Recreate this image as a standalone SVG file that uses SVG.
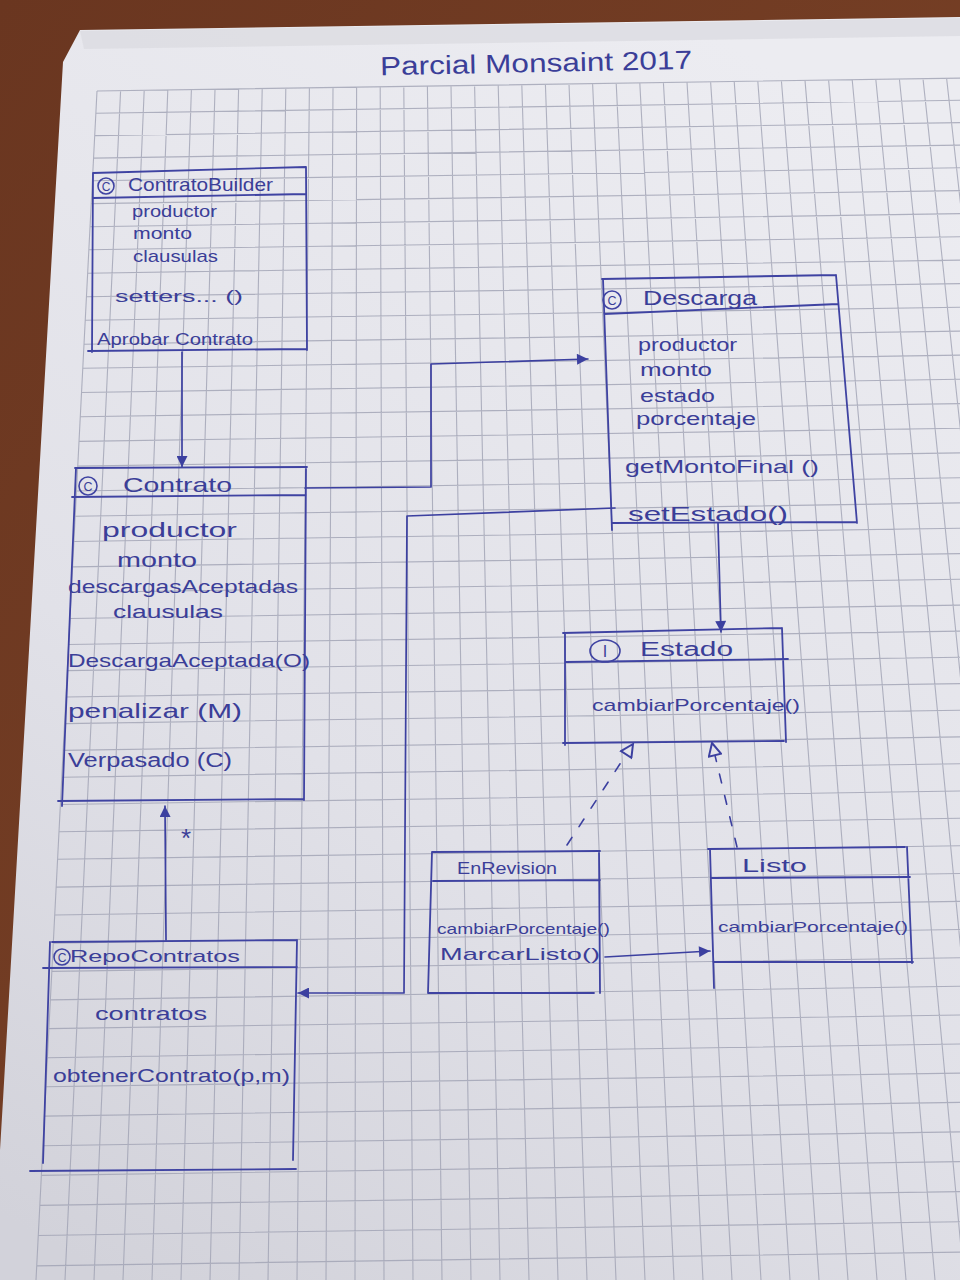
<svg xmlns="http://www.w3.org/2000/svg" width="960" height="1280" viewBox="0 0 960 1280">
<defs>
<linearGradient id="wood" x1="0" y1="0" x2="1" y2="1">
<stop offset="0" stop-color="#6a3620"/>
<stop offset="1" stop-color="#7e4528"/>
</linearGradient>
<linearGradient id="paper" gradientUnits="userSpaceOnUse" x1="760" y1="60" x2="80" y2="1260">
<stop offset="0" stop-color="#ececf1"/>
<stop offset="0.6" stop-color="#e1e1e8"/>
<stop offset="1" stop-color="#d2d2da"/>
</linearGradient>
<marker id="filled" viewBox="0 0 10 10" refX="10" refY="5" markerWidth="14" markerHeight="11" markerUnits="userSpaceOnUse" orient="auto">
<path d="M0,0 L10,5 L0,10 Z" fill="#3c40a0"/>
</marker>
<marker id="open" viewBox="0 0 12 12" refX="11" refY="6" markerWidth="17" markerHeight="15" markerUnits="userSpaceOnUse" orient="auto">
<path d="M1,1 L11,6 L1,11 Z" fill="#e4e4ea" stroke="#3c40a0" stroke-width="1.6" stroke-dasharray="none"/>
</marker>
<style>
.box{fill:none;stroke:#3f43a2;stroke-width:1.8;stroke-linecap:round;stroke-linejoin:round}
.con{fill:none;stroke:#3c40a0;stroke-width:1.7;stroke-linecap:round;stroke-linejoin:round}
.dash{fill:none;stroke:#3c40a0;stroke-width:1.6;stroke-dasharray:9 13;stroke-linecap:round}
.t{font-family:"Liberation Sans",Arial,sans-serif;fill:#3b3e98}
.sym{fill:none;stroke:#3f43a2;stroke-width:1.6}
.grid{fill:none;stroke:#9fa1b3;stroke-width:1.1;opacity:0.8}
</style>
</defs>

<g id="background">
<rect x="0" y="0" width="960" height="1280" fill="url(#wood)"/>
<path d="M80 30 L960 17 L960 1280 L0 1280 L0 1150 L3 1100 L63 62 Z" fill="url(#paper)"/>
<path d="M80 31 L960 18 L960 36 L84 49 Z" fill="#dadae0" opacity="0.7"/>
<path class="grid" d="M97 91 L36 1280 M120.6 90.6 L65 1280 M144.2 90.3 L94 1280 M167.8 89.9 L123 1280 M191.4 89.6 L152 1280 M215 89.2 L181 1280 M238.6 88.9 L210 1280 M262.2 88.5 L239 1280 M285.8 88.2 L268 1280 M309.4 87.8 L297 1280 M333 87.5 L326 1280 M356.6 87.1 L355 1280 M380.2 86.8 L384 1280 M403.8 86.4 L413 1280 M427.4 86 L442 1280 M451 85.7 L471 1280 M474.6 85.3 L500 1280 M498.2 85 L529 1280 M521.8 84.6 L558 1280 M545.4 84.3 L587 1280 M569 83.9 L616 1280 M592.6 83.6 L645 1280 M616.2 83.2 L674 1280 M639.8 82.9 L703 1280 M663.4 82.5 L732 1280 M687 82.2 L761 1280 M710.6 81.8 L790 1280 M734.2 81.4 L819 1280 M757.8 81.1 L848 1280 M781.4 80.7 L877 1280 M805 80.4 L906 1280 M828.6 80 L935 1280 M852.2 79.7 L964 1280 M875.8 79.3 L993 1280 M899.4 79 L1022 1280 M923 78.6 L1051 1280 M946.6 78.3 L1080 1280 M970.2 77.9 L1109 1280
M97 91 L960 78.1 M95.9 113.3 L960 100.3 M94.7 135.6 L960 122.6 M93.6 158.1 L960 145.1 M92.4 180.8 L960 167.8 M91.2 203.6 L960 190.6 M90 226.7 L960 213.6 M88.9 249.8 L960 236.7 M87.7 273.2 L960 260.1 M86.5 296.7 L960 283.6 M85.3 320.3 L960 307.2 M84 344.2 L960 331.1 M82.8 368.3 L960 355.1 M81.6 392.5 L960 379.3 M80.3 416.8 L960 403.6 M79.1 441.4 L960 428.2 M77.8 466.1 L960 452.9 M76.5 491 L960 477.8 M75.3 516.2 L960 502.9 M74 541.5 L960 528.2 M72.7 566.9 L960 553.6 M71.3 592.5 L960 579.2 M70 618.5 L960 605.1 M68.7 644.5 L960 631.1 M67.3 670.6 L960 657.2 M66 697 L960 683.6 M64.6 723.6 L960 710.2 M63.3 750.4 L960 736.9 M61.9 777.3 L960 763.8 M60.5 804.5 L960 791 M59.1 831.8 L960 818.3 M57.7 859.3 L960 845.8 M56.3 887.1 L960 873.5 M54.8 915 L960 901.4 M53.4 943.1 L960 929.5 M52 971.4 L960 957.8 M50.5 999.9 L960 986.3 M49 1028.6 L960 1015 M47.5 1057.7 L960 1044 M46.1 1086.8 L960 1073.1 M44.6 1116.1 L960 1102.4 M43 1145.7 L960 1131.9 M41.5 1175.4 L960 1161.6 M40 1205.4 L960 1191.6 M38.4 1235.5 L960 1221.7 M36.9 1265.9 L960 1252.1"/>
</g>

<g id="title">
<text class="t" x="380" y="72" font-size="26" textLength="312" lengthAdjust="spacingAndGlyphs" transform="rotate(-1.2 536 62)">Parcial Monsaint 2017</text>
</g>

<g id="connectors">
<path class="con" d="M182 352 L182 467" marker-end="url(#filled)"/>
<path class="con" d="M718 523 L721 632" marker-end="url(#filled)"/>
<path class="con" d="M166 940 L165 806" marker-end="url(#filled)"/>
<path class="con" d="M305 488 L431 487 L431 364 L588 359" marker-end="url(#filled)"/>
<path class="con" d="M615 508 L407 516 L404 993 L298 993" marker-end="url(#filled)"/>
<path class="con" d="M605 957 L710 951" marker-end="url(#filled)"/>
<path class="dash" d="M567 845 L633 744" marker-end="url(#open)"/>
<path class="dash" d="M737 847 L712 743" marker-end="url(#open)"/>
<text class="t" x="181" y="847" font-size="26">*</text>
</g>

<g id="node-contratobuilder">
<path class="box" d="M93 173 L306 167 M306 167 L307 350 M93 173 L92 352 M88 351 L307 349 M93 198 L306 194"/>
<circle class="sym" cx="106" cy="186" r="8"/>
<text class="t" x="106" y="190.5" font-size="12" text-anchor="middle">C</text>
<text class="t" x="128" y="191" font-size="19" textLength="145" lengthAdjust="spacingAndGlyphs">ContratoBuilder</text>
<text class="t" x="132" y="217" font-size="17" textLength="85" lengthAdjust="spacingAndGlyphs">productor</text>
<text class="t" x="133" y="239" font-size="17" textLength="59" lengthAdjust="spacingAndGlyphs">monto</text>
<text class="t" x="133" y="262" font-size="17" textLength="85" lengthAdjust="spacingAndGlyphs">clausulas</text>
<text class="t" x="115" y="302" font-size="17" textLength="128" lengthAdjust="spacingAndGlyphs">setters... ()</text>
<text class="t" x="97" y="345" font-size="17" textLength="156" lengthAdjust="spacingAndGlyphs">Aprobar Contrato</text>
</g>

<g id="node-contrato">
<path class="box" d="M75 468 L307 467 M306 467 L304 800 M76 468 L62 806 M58 801 L304 799 M72 497 L306 495"/>
<circle class="sym" cx="88" cy="486" r="9"/>
<text class="t" x="88" y="490.5" font-size="12.5" text-anchor="middle">C</text>
<text class="t" x="123" y="492" font-size="21" textLength="109" lengthAdjust="spacingAndGlyphs">Contrato</text>
<text class="t" x="102" y="537" font-size="21" textLength="135" lengthAdjust="spacingAndGlyphs">productor</text>
<text class="t" x="117" y="567" font-size="20" textLength="80" lengthAdjust="spacingAndGlyphs">monto</text>
<text class="t" x="68" y="593" font-size="19" textLength="230" lengthAdjust="spacingAndGlyphs">descargasAceptadas</text>
<text class="t" x="113" y="618" font-size="19" textLength="110" lengthAdjust="spacingAndGlyphs">clausulas</text>
<text class="t" x="68" y="667" font-size="19" textLength="242" lengthAdjust="spacingAndGlyphs">DescargaAceptada(O)</text>
<text class="t" x="68" y="718" font-size="21" textLength="174" lengthAdjust="spacingAndGlyphs">penalizar (M)</text>
<text class="t" x="68" y="767" font-size="20" textLength="164" lengthAdjust="spacingAndGlyphs">Verpasado (C)</text>
</g>

<g id="node-descarga">
<path class="box" d="M602 279 L836 275 M836 275 L857 523 M603 279 L612 530 M604 314 L838 304 M612 523 L857 522"/>
<circle class="sym" cx="612" cy="300" r="9"/>
<text class="t" x="612" y="304.5" font-size="12.5" text-anchor="middle">C</text>
<text class="t" x="643" y="305" font-size="20" textLength="114" lengthAdjust="spacingAndGlyphs">Descarga</text>
<text class="t" x="638" y="351" font-size="18" textLength="99" lengthAdjust="spacingAndGlyphs">productor</text>
<text class="t" x="640" y="376" font-size="18" textLength="72" lengthAdjust="spacingAndGlyphs">monto</text>
<text class="t" x="640" y="402" font-size="19" textLength="75" lengthAdjust="spacingAndGlyphs">estado</text>
<text class="t" x="636" y="425" font-size="18" textLength="120" lengthAdjust="spacingAndGlyphs">porcentaje</text>
<text class="t" x="625" y="473" font-size="19" textLength="194" lengthAdjust="spacingAndGlyphs">getMontoFinal ()</text>
<text class="t" x="628" y="521" font-size="21" textLength="160" lengthAdjust="spacingAndGlyphs">setEstado()</text>
</g>

<g id="node-estado">
<path class="box" d="M563 633 L782 628 M782 628 L786 742 M565 633 L565 745 M566 662 L788 659 M563 743 L784 741"/>
<ellipse class="sym" cx="605" cy="651" rx="15" ry="11"/>
<text class="t" x="605" y="657" font-size="16" text-anchor="middle">I</text>
<text class="t" x="640" y="656" font-size="20" textLength="93" lengthAdjust="spacingAndGlyphs">Estado</text>
<text class="t" x="592" y="711" font-size="17" textLength="208" lengthAdjust="spacingAndGlyphs">cambiarPorcentaje()</text>
</g>

<g id="node-enrevision">
<path class="box" d="M432 852 L600 851 M432 852 L428 993 M599 851 L600 993 M433 881 L600 880 M428 993 L594 993"/>
<text class="t" x="457" y="874" font-size="16" textLength="100" lengthAdjust="spacingAndGlyphs">EnRevision</text>
<text class="t" x="437" y="934" font-size="15" textLength="173" lengthAdjust="spacingAndGlyphs">cambiarPorcentaje()</text>
<text class="t" x="440" y="960" font-size="17" textLength="160" lengthAdjust="spacingAndGlyphs">MarcarListo()</text>
</g>

<g id="node-listo">
<path class="box" d="M708 849 L905 847 M907 847 L912 963 M710 849 L714 988 M712 878 L910 877 M713 962 L913 962"/>
<text class="t" x="742" y="872" font-size="18" textLength="65" lengthAdjust="spacingAndGlyphs">Listo</text>
<text class="t" x="718" y="932" font-size="15" textLength="190" lengthAdjust="spacingAndGlyphs">cambiarPorcentaje()</text>
</g>

<g id="node-repocontratos">
<path class="box" d="M52 942 L297 940 M50 942 L43 1163 M297 940 L293 1160 M43 968 L297 967 M30 1171 L296 1169"/>
<circle class="sym" cx="62" cy="957" r="8"/>
<text class="t" x="62" y="961.5" font-size="12" text-anchor="middle">C</text>
<text class="t" x="70" y="962" font-size="17" textLength="170" lengthAdjust="spacingAndGlyphs">RepoContratos</text>
<text class="t" x="95" y="1020" font-size="19" textLength="112" lengthAdjust="spacingAndGlyphs">contratos</text>
<text class="t" x="53" y="1082" font-size="19" textLength="237" lengthAdjust="spacingAndGlyphs">obtenerContrato(p,m)</text>
</g>
</svg>
